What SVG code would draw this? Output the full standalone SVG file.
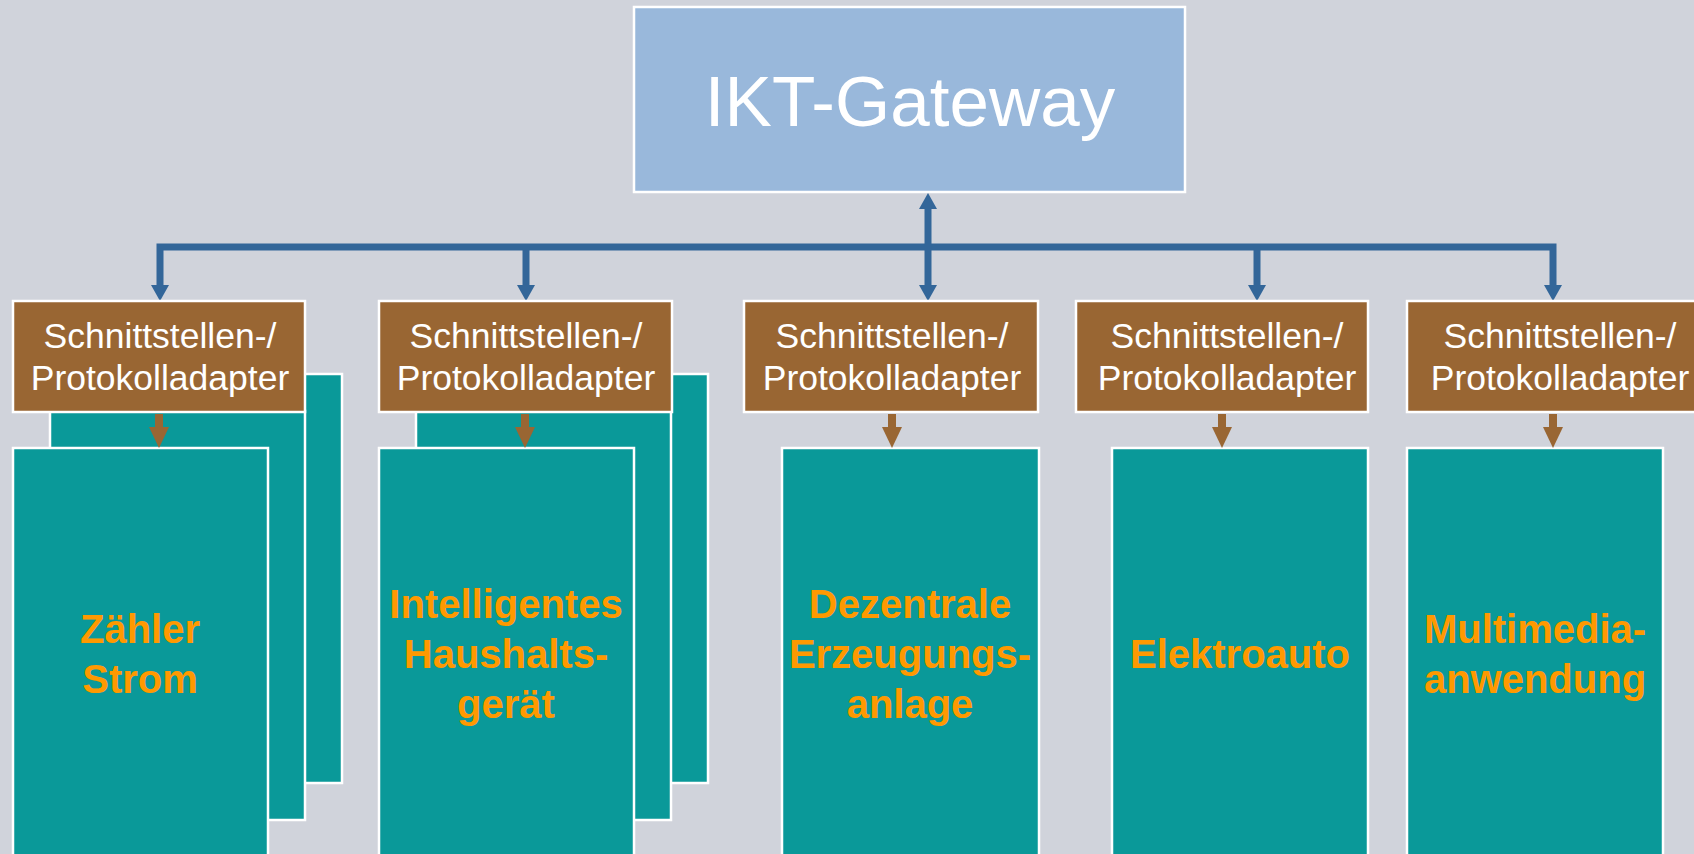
<svg xmlns="http://www.w3.org/2000/svg" width="1694" height="854" viewBox="0 0 1694 854">
<defs>
<style>
.bg{fill:#D0D3DB}
.gw{fill:#99B8DB;stroke:#FFFFFF;stroke-width:2.5}
.ad{fill:#996633;stroke:#FFFFFF;stroke-width:2.5}
.dev{fill:#0A9999;stroke:#FFFFFF;stroke-width:2.5}
.t{font-family:"Liberation Sans",Arial,Helvetica,sans-serif;text-anchor:middle}
.gwt{font-size:71px;fill:#FFFFFF}
.adt{font-size:35.5px;fill:#FFFFFF}
.dvt{font-size:40px;font-weight:bold;fill:#FF9900}
.bl{fill:none;stroke:#336699;stroke-width:7;stroke-linejoin:miter}
.br{fill:none;stroke:#996633;stroke-width:8}
</style>
<marker id="hb" markerUnits="userSpaceOnUse" viewBox="0 0 16 18" markerWidth="16" markerHeight="18" refX="0" refY="9" orient="auto-start-reverse">
<path d="M0,0 L16,9 L0,18 Z" fill="#336699"/>
</marker>
<marker id="hr" markerUnits="userSpaceOnUse" viewBox="0 0 21 20" markerWidth="21" markerHeight="20" refX="0" refY="10" orient="auto">
<path d="M0,0 L21,10 L0,20 Z" fill="#996633"/>
</marker>
</defs>
<rect class="bg" x="0" y="0" width="1694" height="854"/>

<g id="gateway">
<rect class="gw" x="634" y="7" width="551" height="185"/>
<text class="t gwt" x="910" y="126">IKT-Gateway</text>
</g>

<g id="connectors">
<path class="bl" d="M160,285 L160,247 L1553,247 L1553,285" marker-start="url(#hb)" marker-end="url(#hb)"/>
<path class="bl" d="M526,247 L526,285" marker-end="url(#hb)"/>
<path class="bl" d="M1257,247 L1257,285" marker-end="url(#hb)"/>
<path class="bl" d="M928,209 L928,285" marker-start="url(#hb)" marker-end="url(#hb)"/>
</g>

<g id="device1">
<rect class="dev" x="87" y="374" width="255" height="409"/>
<rect class="dev" x="50" y="411" width="255" height="409"/>
<rect class="dev" x="13" y="448" width="255" height="420"/>
<text class="t dvt" x="140"><tspan x="140" y="643">Zähler</tspan><tspan x="140" y="693">Strom</tspan></text>
</g>
<g id="device2">
<rect class="dev" x="453" y="374" width="255" height="409"/>
<rect class="dev" x="416" y="411" width="255" height="409"/>
<rect class="dev" x="379" y="448" width="255" height="420"/>
<text class="t dvt" x="506"><tspan x="506" y="618">Intelligentes</tspan><tspan x="506" y="668">Haushalts-</tspan><tspan x="506" y="718">gerät</tspan></text>
</g>
<g id="device3">
<rect class="dev" x="782" y="448" width="257" height="420"/>
<text class="t dvt" x="910"><tspan x="910" y="618">Dezentrale</tspan><tspan x="910" y="668">Erzeugungs-</tspan><tspan x="910" y="718">anlage</tspan></text>
</g>
<g id="device4">
<rect class="dev" x="1112" y="448" width="256" height="420"/>
<text class="t dvt" x="1240" y="668">Elektroauto</text>
</g>
<g id="device5">
<rect class="dev" x="1407" y="448" width="256" height="420"/>
<text class="t dvt" x="1535"><tspan x="1535" y="643">Multimedia-</tspan><tspan x="1535" y="693">anwendung</tspan></text>
</g>

<g id="adapter1">
<rect class="ad" x="13" y="301" width="292" height="111"/>
<text class="t adt"><tspan x="160" y="348">Schnittstellen-/</tspan><tspan x="160" y="390">Protokolladapter</tspan></text>
</g>
<g id="adapter2">
<rect class="ad" x="379" y="301" width="293" height="111"/>
<text class="t adt"><tspan x="526" y="348">Schnittstellen-/</tspan><tspan x="526" y="390">Protokolladapter</tspan></text>
</g>
<g id="adapter3">
<rect class="ad" x="744" y="301" width="294" height="111"/>
<text class="t adt"><tspan x="892" y="348">Schnittstellen-/</tspan><tspan x="892" y="390">Protokolladapter</tspan></text>
</g>
<g id="adapter4">
<rect class="ad" x="1076" y="301" width="292" height="111"/>
<text class="t adt"><tspan x="1227" y="348">Schnittstellen-/</tspan><tspan x="1227" y="390">Protokolladapter</tspan></text>
</g>
<g id="adapter5">
<rect class="ad" x="1407" y="301" width="294" height="111"/>
<text class="t adt"><tspan x="1560" y="348">Schnittstellen-/</tspan><tspan x="1560" y="390">Protokolladapter</tspan></text>
</g>

<g id="adapter-links">
<path class="br" d="M159,414 L159,427" marker-end="url(#hr)"/>
<path class="br" d="M525,414 L525,427" marker-end="url(#hr)"/>
<path class="br" d="M892,414 L892,427" marker-end="url(#hr)"/>
<path class="br" d="M1222,414 L1222,427" marker-end="url(#hr)"/>
<path class="br" d="M1553,414 L1553,427" marker-end="url(#hr)"/>
</g>
</svg>
